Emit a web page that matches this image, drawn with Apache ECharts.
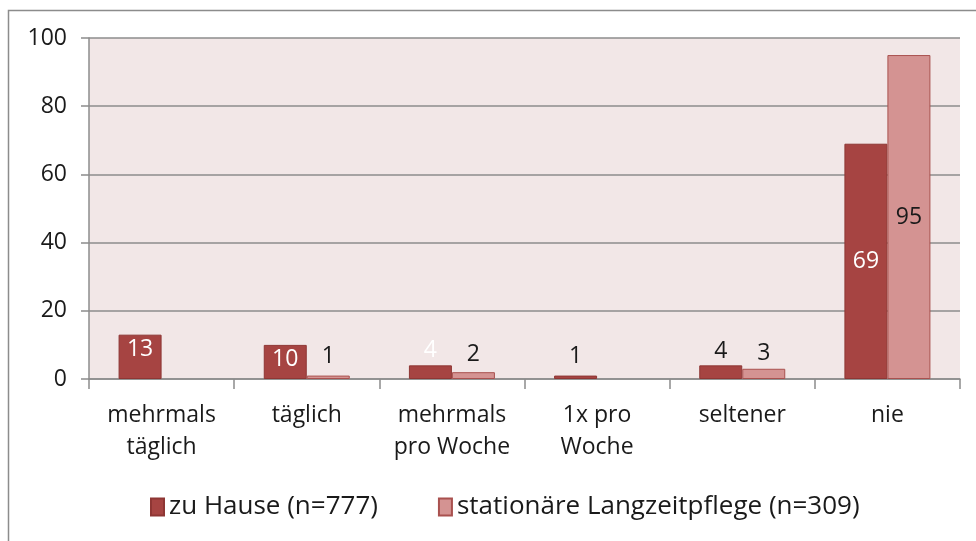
<!DOCTYPE html>
<html>
<head>
<meta charset="utf-8">
<script src="https://cdn.jsdelivr.net/npm/echarts@6/dist/echarts.min.js"></script>
<style>
  html, body { margin: 0; padding: 0; background: #ffffff; }
  #chart { width: 976px; height: 541px; }
</style>
</head>
<body>
<div id="chart"></div>
<script>
// Frequency categories on the x axis
const categories = ['mehrmals\ntäglich', 'täglich', 'mehrmals\npro Woche', '1x pro\nWoche', 'seltener', 'nie'];

// Percentages per setting (null = no bar)
const homeValues = [13, 10, 4, 1, 4, 69];
const careValues = [null, 1, 2, null, 3, 95];

const seriesNames = ['zu Hause (n=777)', 'stationäre Langzeitpflege (n=309)'];

const yTicks = { min: 0, max: 100, interval: 20 };

const FONT = '"Open Sans", "Noto Sans", sans-serif';
const TEXT_SIZE = 23;
const LEGEND_SIZE = 26;
const darkRed = '#a64442';
const lightRed = '#d49392';

// Label placement per bar
const homeLabelStyle = [
  { position: 'insideTop', color: '#ffffff', distance: 3 },
  { position: 'insideTop', color: '#ffffff', distance: 3 },
  { position: 'top', color: '#ffffff', distance: 3 },
  { position: 'top', color: '#1a1a1a', distance: 8 },
  { position: 'top', color: '#1a1a1a', distance: 2 },
  { position: 'inside', color: '#ffffff' }
];
const careLabelStyle = [
  null,
  { position: 'top', color: '#1a1a1a', distance: 8 },
  { position: 'top', color: '#1a1a1a', distance: 6 },
  null,
  { position: 'top', color: '#1a1a1a', distance: 4 },
  { position: 'inside', color: '#1a1a1a' }
];

function buildData(values, styles) {
  return values.map((v, i) => {
    if (v === null) return { value: null };
    const s = styles[i] || {};
    return {
      value: v,
      label: Object.assign({ show: true, fontSize: TEXT_SIZE, fontFamily: FONT }, s)
    };
  });
}

const chart = echarts.init(document.getElementById('chart'), null, { renderer: 'canvas' });

chart.setOption({
  animation: false,
  backgroundColor: '#ffffff',
  graphic: [
    {
      type: 'rect',
      z: -10,
      shape: { x: 8.5, y: 10.5, width: 1000, height: 600 },
      style: { fill: 'none', stroke: '#8c8c8c', lineWidth: 1.5 }
    }
  ],
  grid: {
    left: 89, right: 16, top: 38, bottom: 162,
    show: true,
    backgroundColor: '#f2e7e7',
    borderWidth: 0
  },
  legend: {
    bottom: 16,
    left: 145,
    itemWidth: 13,
    itemHeight: 17,
    itemGap: 60,
    icon: 'rect',
    textStyle: { fontSize: LEGEND_SIZE, fontFamily: FONT, color: '#1a1a1a' },
    data: seriesNames
  },
  xAxis: {
    type: 'category',
    data: categories,
    boundaryGap: true,
    axisLine: { lineStyle: { color: '#8c8c8c', width: 1.5 } },
    axisTick: { show: true, length: 10, lineStyle: { color: '#8c8c8c', width: 1.5 } },
    axisLabel: {
      fontSize: TEXT_SIZE,
      fontFamily: FONT,
      color: '#1a1a1a',
      lineHeight: 32,
      margin: 20,
      interval: 0
    }
  },
  yAxis: {
    type: 'value',
    min: yTicks.min,
    max: yTicks.max,
    interval: yTicks.interval,
    axisLine: { show: true, lineStyle: { color: '#8c8c8c', width: 1.5 } },
    axisTick: { show: true, length: 8, lineStyle: { color: '#8c8c8c', width: 1.5 } },
    splitLine: { show: true, lineStyle: { color: '#8c8c8c', width: 1.5 } },
    axisLabel: { fontSize: TEXT_SIZE, fontFamily: FONT, color: '#1a1a1a', margin: 22 }
  },
  series: [
    {
      name: seriesNames[0],
      type: 'bar',
      barWidth: 43,
      barGap: '0%',
      itemStyle: { color: darkRed, borderColor: '#8e3634', borderWidth: 1 },
      data: buildData(homeValues, homeLabelStyle)
    },
    {
      name: seriesNames[1],
      type: 'bar',
      barWidth: 43,
      barGap: '0%',
      itemStyle: { color: lightRed, borderColor: '#a9514f', borderWidth: 1 },
      data: buildData(careValues, careLabelStyle)
    }
  ]
});
</script>
</body>
</html>
